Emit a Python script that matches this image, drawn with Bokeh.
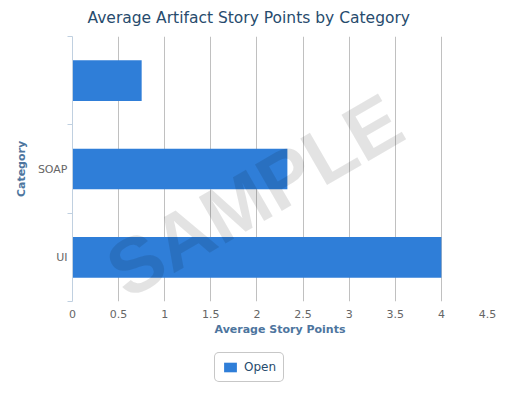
from bokeh.plotting import figure
from bokeh.layouts import column
from bokeh.models import Range1d, FixedTicker, Label, Legend, LegendItem, ColumnDataSource
from bokeh.embed import file_html
from bokeh.resources import INLINE

# ---- data ----
categories = ["", "SOAP", "UI"]          # top to bottom
open_values = [0.75, 2.33, 4.0]
x_ticks = [0, 0.5, 1, 1.5, 2, 2.5, 3, 3.5, 4, 4.5]
x_tick_labels = ["0", "0.5", "1", "1.5", "2", "2.5", "3", "3.5", "4", "4.5"]
series_name = "Open"
title_text = "Average Artifact Story Points by Category"
x_title = "Average Story Points"
y_title = "Category"

FONT = "DejaVu Sans"
BAR_COLOR = "#2f7ed8"
n = len(categories)
ypos = [n - i - 0.5 for i in range(n)]

p = figure(width=510, height=345, output_backend="svg", toolbar_location=None,
           x_range=Range1d(0, 4.5), y_range=Range1d(0, n),
           frame_width=415, frame_height=265,
           min_border_left=72, min_border_right=23, min_border_top=36, min_border_bottom=44)
p.outline_line_color = None
p.background_fill_color = "white"
p.border_fill_color = "white"

src = ColumnDataSource(dict(y=ypos, right=open_values))
bars = p.hbar(y="y", right="right", left=0, height=0.46, source=src,
              fill_color=BAR_COLOR, line_color=None)

# title
p.title.text = title_text
p.title.text_font = FONT
p.title.text_font_size = "15.5px"
p.title.text_font_style = "normal"
p.title.text_color = "#274b6d"
p.title.align = "left"
p.title.vertical_align = "top"
p.title.offset = 15
p.title.standoff = 16

# x axis
xa = p.xaxis[0]
xa.ticker = FixedTicker(ticks=x_ticks)
xa.major_label_overrides = {t: l for t, l in zip(x_ticks, x_tick_labels)}
xa.axis_line_color = None
xa.major_tick_line_color = None
xa.minor_tick_line_color = None
xa.major_tick_out = 0
xa.major_tick_in = 0
xa.major_label_standoff = 8
xa.major_label_text_font = FONT
xa.major_label_text_font_size = "11px"
xa.major_label_text_color = "#666666"
xa.axis_label = x_title
xa.axis_label_text_font = FONT
xa.axis_label_text_font_size = "11px"
xa.axis_label_text_font_style = "bold"
xa.axis_label_text_color = "#4d759e"
xa.axis_label_standoff = 2

# y axis
ya = p.yaxis[0]
ya.ticker = FixedTicker(ticks=ypos, minor_ticks=list(range(n + 1)))
ya.major_label_overrides = {y: c for y, c in zip(ypos, categories)}
ya.axis_line_color = "#C0D0E0"
ya.major_tick_line_color = None
ya.major_tick_out = 0
ya.major_tick_in = 0
ya.minor_tick_line_color = "#C0D0E0"
ya.minor_tick_out = 5
ya.minor_tick_in = 0
ya.major_label_standoff = 0
ya.major_label_text_font = FONT
ya.major_label_text_font_size = "11px"
ya.major_label_text_color = "#666666"
ya.axis_label = y_title
ya.axis_label_text_font = FONT
ya.axis_label_text_font_size = "11px"
ya.axis_label_text_font_style = "bold"
ya.axis_label_text_color = "#4d759e"
ya.axis_label_standoff = 7

p.xgrid.ticker = FixedTicker(ticks=x_ticks)
p.xgrid.grid_line_color = "#C0C0C0"
p.ygrid.grid_line_color = None

# watermark
p.add_layout(Label(x=182, y=106, x_units="screen", y_units="screen", text="SAMPLE",
                   text_font="Liberation Sans", text_font_style="bold", text_font_size="78px",
                   text_color="black", text_alpha=0.11, angle=30, angle_units="deg",
                   text_align="center", text_baseline="middle"))

# legend strip below the chart (its renderer shares the series data, kept out of view)
lf = figure(width=510, height=48, output_backend="svg", toolbar_location=None,
            x_range=Range1d(0, 1), y_range=Range1d(20, 21),
            x_axis_type=None, y_axis_type=None,
            min_border_left=0, min_border_right=0, min_border_top=0, min_border_bottom=0)
lf.outline_line_color = None
lf.background_fill_color = "white"
lf.border_fill_color = "white"
leg_r = lf.hbar(y="y", right="right", left=0, height=0.46, source=src,
                fill_color=BAR_COLOR, line_color=None)

legend = Legend(items=[LegendItem(label=series_name, renderers=[leg_r])],
                location=(142, 11), orientation="horizontal",
                label_text_font=FONT, label_text_font_size="12px", label_text_color="#274b6d",
                glyph_width=16, glyph_height=12, label_standoff=6, padding=7, margin=0,
                border_line_color="#909090", border_line_width=1,
                background_fill_color="white", background_fill_alpha=1)
try:
    legend.border_radius = 5
except Exception:
    pass
lf.add_layout(legend, "center")

layout = column(p, lf)
open("out.html", "w").write(file_html(layout, INLINE))
